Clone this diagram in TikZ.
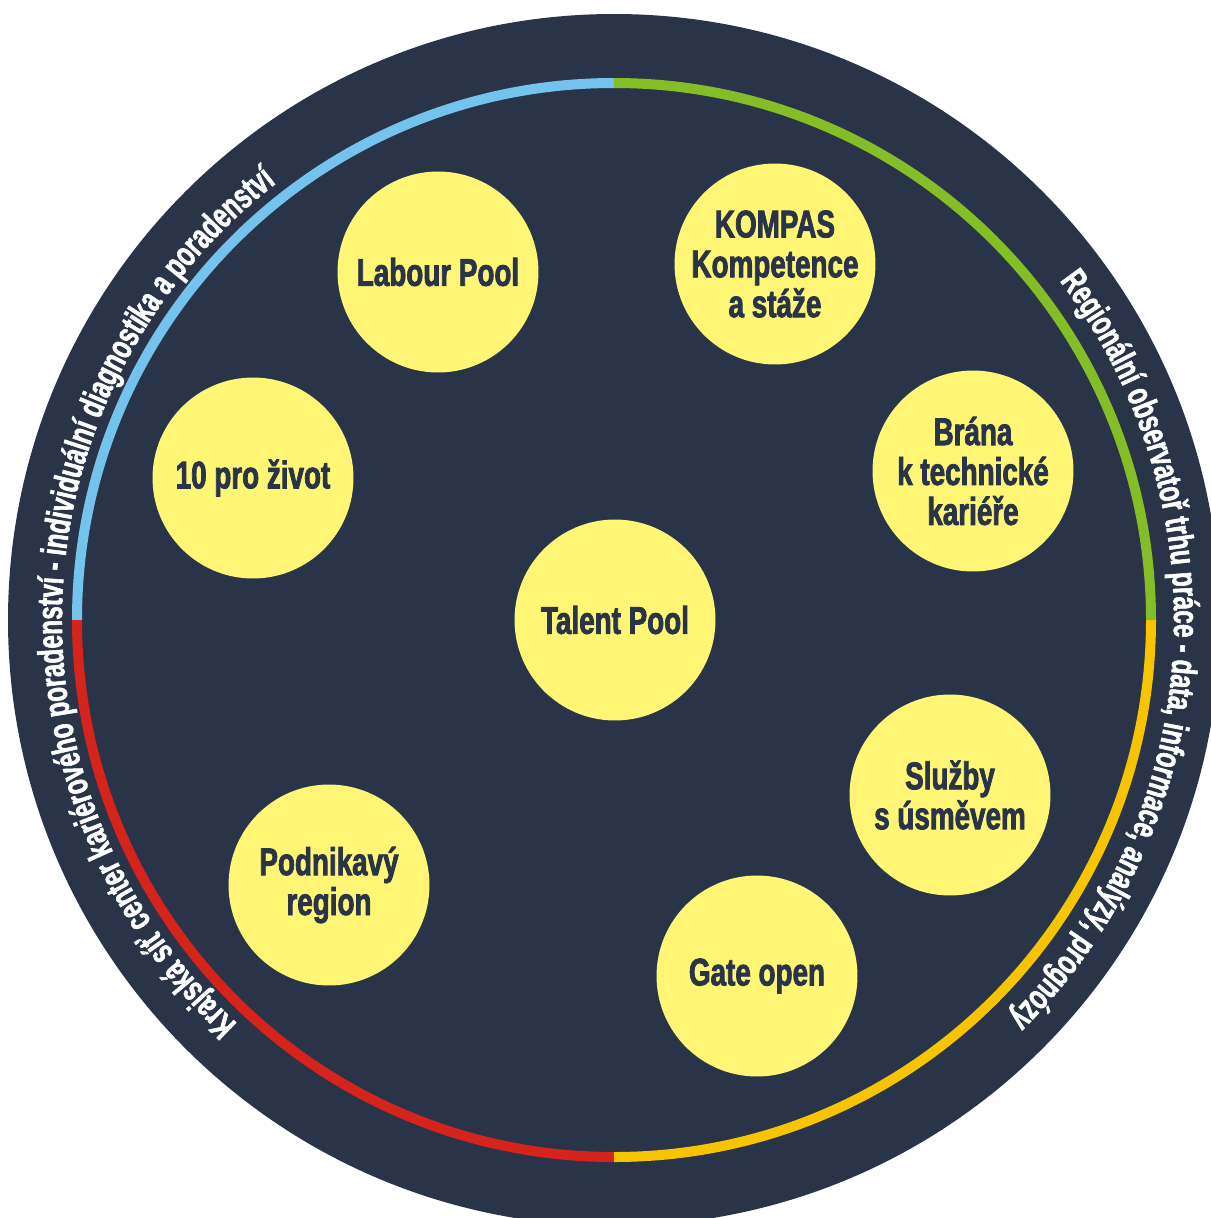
\documentclass[tikz,border=0pt]{standalone}
\usepackage{fontspec}
\usetikzlibrary{decorations.text}
\setmainfont{Liberation Sans}
\newfontfamily\bubblefam[FakeStretch=0.72, FakeBold=2]{Liberation Sans}
\newfontfamily\orbitfam[FakeStretch=0.68, FakeBold=1.5]{Liberation Sans}
\newcommand\bubbletext{\bubblefam\bfseries\fontsize{22}{22.7}\selectfont}
\newcommand\orbittext{\orbitfam\bfseries\fontsize{20.3}{22}\selectfont}

\definecolor{navy}{RGB}{41,52,73}
\definecolor{bubbleyellow}{RGB}{255,246,117}
\definecolor{ringblue}{RGB}{116,195,236}
\definecolor{ringgreen}{RGB}{132,190,38}
\definecolor{ringyellow}{RGB}{246,196,0}
\definecolor{ringred}{RGB}{214,35,27}

\tikzset{
  bubble/.style={circle, fill=bubbleyellow, minimum size=4.02cm, inner sep=0pt,
                 text=navy, align=center, font=\bubbletext},
  ringarc/.style={line width=0.2cm},
}

\begin{document}
\begin{tikzpicture}[x=0.02cm,y=0.02cm]
  \useasboundingbox (0,0) rectangle (1211,-1218);
  \coordinate (c) at (614,-620);

  % dark disc
  \fill[navy] (c) circle[radius=606];

  % four-coloured ring
  \draw[ringarc, ringblue]   (c) ++(90:537)  arc[start angle=90,  end angle=180, radius=537];
  \draw[ringarc, ringred]    (c) ++(180:537) arc[start angle=180, end angle=270, radius=537];
  \draw[ringarc, ringyellow] (c) ++(270:537) arc[start angle=270, end angle=360, radius=537];
  \draw[ringarc, ringgreen]  (c) ++(0:537)   arc[start angle=0,   end angle=90,  radius=537];

  % curved captions
  \path[decorate, decoration={text along path, text align=center, text color=white,
      text={|\orbittext|Krajská síť center kariérového poradenství - individuální diagnostika a poradenství}}]
    (c) ++(237.35:552) arc[start angle=237.35, end angle=117.35, radius=552];
  \path[decorate, decoration={text along path, text align=center, text color=white,
      text={|\orbittext|Regionální observatoř trhu práce - data, informace, analýzy, prognózy}}]
    (c) ++(51.05:560) arc[start angle=51.05, end angle=-58.95, radius=560];

  % programme bubbles
  \node[bubble] (talent)   at (615,-620) {Talent Pool};
  \node[bubble] (labour)   at (438,-272) {Labour Pool};
  \node[bubble] (kompas)   at (775,-264) {KOMPAS\\Kompetence\\a stáže};
  \node[bubble] (zivot)    at (253,-478) {10 pro život};
  \node[bubble] (brana)    at (973,-471) {Brána\\k technické\\kariéře};
  \node[bubble] (sluzby)   at (950,-795) {Služby\\s úsměvem};
  \node[bubble] (podnik)   at (329,-885) {Podnikavý\\region};
  \node[bubble] (gate)     at (757,-976) {Gate open};
\end{tikzpicture}
\end{document}
